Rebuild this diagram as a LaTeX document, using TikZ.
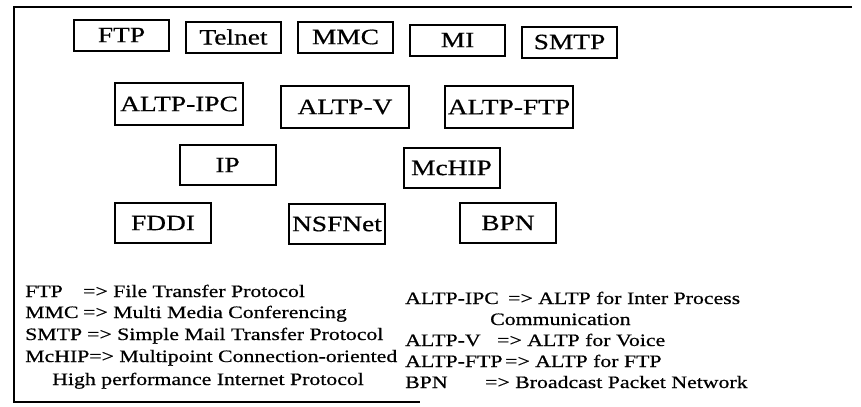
\documentclass[tikz,border=0pt]{standalone}
\usepackage{fontspec}
\setmainfont{Liberation Serif}[FakeStretch=1.25, FakeBold=0.6]
\usetikzlibrary{positioning}

\begin{document}
\begin{tikzpicture}
[
x=1bp, y=-1bp,
box-a/.style={rectangle, draw, line width=2bp, minimum width=95bp, minimum height=31bp, inner sep=0bp, font=\fontsize{22}{22}\selectfont},
box-b/.style={box-a, minimum width=128bp, minimum height=42bp},
box-c/.style={box-a, minimum width=96bp, minimum height=40bp},
text-a/.style={black, anchor=base west, inner sep=0bp, font=\fontsize{17.5}{17.5}\selectfont},
frame-a/.style={line width=2.5bp}
]
\useasboundingbox (0,0) rectangle (861,406);
% frame
\coordinate (fr-tr) at (852,7);
\coordinate (fr-tl) at (14,7);
\coordinate (fr-bl) at (14,402);
\coordinate (fr-br) at (420,402);
\draw [frame-a] (fr-tr) -- (fr-tl) -- (fr-bl) -- (fr-br);
% applications
\node (ftp)       [box-a] at (121.5,35)                       {FTP};
\node (telnet)    [box-a, right = 15bp of ftp, yshift=-2bp]   {Telnet};
\node (mmc)       [box-a, right = 15bp of telnet]             {MMC};
\node (mi)        [box-a, right = 15bp of mmc, yshift=-3bp]   {MI};
\node (smtp)      [box-a, right = 15bp of mi, yshift=-2bp]    {SMTP};
% altp
\node (altp-ipc)  [box-b] at (179,104)                        {ALTP-IPC};
\node (altp-v)    [box-b, right = 36bp of altp-ipc, yshift=-3bp] {ALTP-V};
\node (altp-ftp)  [box-b, right = 34bp of altp-v]             {ALTP-FTP};
% internet
\node (ip)        [box-c] at (227.5,165)                      {IP};
\node (mchip)     [box-c, right = 126bp of ip, yshift=-3bp]   {McHIP};
% networks
\node (fddi)      [box-c] at (163,223)                        {FDDI};
\node (nsfnet)    [box-c, right = 76bp of fddi, yshift=-1bp]  {NSFNet};
\node (bpn)       [box-c, right = 73bp of nsfnet, yshift=1bp] {BPN};
% legend
\node (lg-ftp)    [text-a] at (25,297)   {\makebox[58bp][l]{FTP}=> File Transfer Protocol};
\node (lg-mmc)    [text-a] at (25,318)   {\makebox[58bp][l]{MMC}=> Multi Media Conferencing};
\node (lg-smtp)   [text-a] at (25,340)   {\makebox[62bp][l]{SMTP}=> Simple Mail Transfer Protocol};
\node (lg-mchip)  [text-a] at (25,362)   {McHIP=> Multipoint Connection-oriented};
\node (lg-mchip2) [text-a] at (52,385)   {High performance Internet Protocol};
\node (lg-ipc)    [text-a] at (405,304)  {\makebox[103bp][l]{ALTP-IPC}=> ALTP for Inter Process};
\node (lg-ipc2)   [text-a] at (490,325)  {Communication};
\node (lg-v)      [text-a] at (405,346)  {\makebox[92bp][l]{ALTP-V}=> ALTP for Voice};
\node (lg-aftp)   [text-a] at (405,367)  {\makebox[100bp][l]{ALTP-FTP}=> ALTP for FTP};
\node (lg-bpn)    [text-a] at (405,388)  {\makebox[80bp][l]{BPN}=> Broadcast Packet Network};
\end{tikzpicture}
\end{document}
